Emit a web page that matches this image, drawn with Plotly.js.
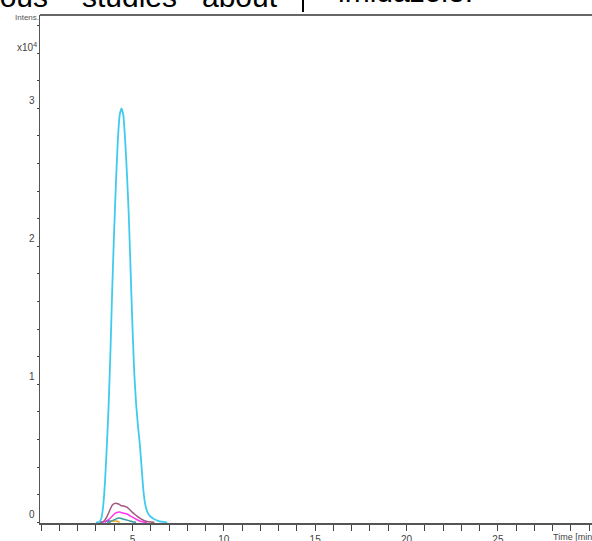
<!DOCTYPE html>
<html>
<head>
<meta charset="utf-8">
<script src="https://cdn.plot.ly/plotly-3.0.1.min.js"></script>
<style>html,body{margin:0;padding:0;background:#fff;overflow:hidden}#chart{width:592px;height:541px}</style>
</head>
<body>
<div id="chart"></div>
<script>
// Time (min) and intensity (x10^4)
var cyanTime = [3.0, 3.1, 3.2, 3.3, 3.4, 3.5, 3.6, 3.7, 3.8, 3.9, 4.0, 4.1, 4.2, 4.3, 4.4, 4.5, 4.6, 4.7, 4.8, 4.9, 5.0, 5.1, 5.2, 5.3, 5.4, 5.5, 5.6, 5.7, 5.8, 5.9, 6.0, 6.2, 6.4, 6.6, 6.9];
var cyanInt  = [0, 0, 0.005, 0.03, 0.12, 0.3, 0.56, 0.86, 1.26, 1.72, 2.12, 2.47, 2.77, 2.95, 3.0, 2.95, 2.77, 2.52, 2.22, 1.82, 1.42, 1.08, 0.86, 0.7, 0.57, 0.4, 0.23, 0.13, 0.08, 0.055, 0.04, 0.022, 0.011, 0.005, 0];

var mauveTime = [3.2, 3.4, 3.6, 3.8, 3.9, 4.0, 4.1, 4.2, 4.3, 4.4, 4.5, 4.6, 4.7, 4.8, 4.9, 5.0, 5.1, 5.2, 5.3, 5.4, 5.6, 5.8, 6.0, 6.2];
var mauveInt  = [0, 0.005, 0.04, 0.1, 0.125, 0.135, 0.138, 0.135, 0.128, 0.12, 0.118, 0.115, 0.11, 0.098, 0.085, 0.072, 0.06, 0.05, 0.04, 0.03, 0.015, 0.006, 0.002, 0];

var magentaTime = [3.3, 3.5, 3.7, 3.9, 4.0, 4.1, 4.2, 4.3, 4.4, 4.5, 4.6, 4.7, 4.8, 4.9, 5.0, 5.1, 5.2, 5.3, 5.4, 5.6, 5.8];
var magentaInt  = [0, 0.005, 0.02, 0.045, 0.06, 0.068, 0.073, 0.074, 0.07, 0.066, 0.064, 0.06, 0.053, 0.045, 0.038, 0.03, 0.022, 0.015, 0.009, 0.003, 0];

var tealTime = [3.6, 3.8, 4.0, 4.1, 4.2, 4.3, 4.4, 4.5, 4.6, 4.7, 4.8, 4.9, 5.0, 5.2];
var tealInt  = [0, 0.008, 0.018, 0.025, 0.03, 0.032, 0.028, 0.022, 0.02, 0.016, 0.012, 0.008, 0.004, 0];

var blueTime = [3.5, 3.6, 3.7, 3.8];
var blueInt  = [0, 0.012, 0.01, 0];

var orangeTime = [3.7, 3.8, 3.9, 4.0, 4.1, 4.2, 4.3];
var orangeInt  = [0, 0.007, 0.009, 0.01, 0.009, 0.006, 0];

var xTickVals = [5, 10, 15, 20, 25, 30];
var xTickText = ['5', '10', '15', '20', '25', ''];
var yTickVals = [0, 1, 2, 3];
var yTickText = ['0', '1', '2', '3'];

function tr(x, y, color, w) {
  return {x: x, y: y, type: 'scatter', mode: 'lines', line: {color: color, width: w, shape: 'spline', smoothing: 0.5}, hoverinfo: 'skip'};
}

var data = [
  tr(orangeTime, orangeInt, '#e8a317', 1.5),
  tr(blueTime, blueInt, '#2a2ad8', 1.5),
  tr(tealTime, tealInt, '#3a9c9c', 1.5),
  tr(magentaTime, magentaInt, '#ff36f0', 1.5),
  tr(mauveTime, mauveInt, '#a0587e', 1.5),
  tr(cyanTime, cyanInt, '#3fcbee', 1.8)
];

var F = 'Liberation Sans, Arial, sans-serif';
var tickFont = {family: F, size: 10, color: '#444'};

var layout = {
  width: 592, height: 541,
  margin: {l: 40, r: 0, t: 15, b: 18, pad: 0},
  paper_bgcolor: '#fff', plot_bgcolor: '#fff',
  showlegend: false,
  xaxis: {
    range: [-0.06, 30.15], showgrid: false, zeroline: false,
    showline: true, linecolor: '#555', linewidth: 1.5,
    tickvals: xTickVals, ticktext: xTickText,
    ticks: 'outside', ticklen: 6, tickwidth: 1, tickcolor: '#444',
    minor: {dtick: 1, tick0: 0, ticks: 'outside', ticklen: 6, tickwidth: 1, tickcolor: '#444'},
    tickfont: tickFont, ticklabelstandoff: 0
  },
  yaxis: {
    range: [-0.005, 3.676], showgrid: false, zeroline: false,
    showline: true, linecolor: '#555', linewidth: 1.5,
    tickvals: yTickVals, ticktext: yTickText,
    ticks: 'outside', ticklen: 2, tickwidth: 1, tickcolor: '#444',
    minor: {dtick: 0.2, tick0: 0, ticks: 'outside', ticklen: 2, tickwidth: 1, tickcolor: '#444'},
    tickfont: tickFont, ticklabelshift: -8, ticklabelstandoff: 0
  },
  shapes: [
    {type: 'line', xref: 'paper', yref: 'paper', x0: 0, x1: 1, y0: 1, y1: 1, line: {color: '#666', width: 2}},
    {type: 'line', xref: 'paper', yref: 'paper', x0: (303 - 40) / 552, x1: (303 - 40) / 552, y0: (523 - 0) / 508, y1: (523 - 12) / 508, line: {color: '#000', width: 2}}
  ],
  annotations: [
    {xref: 'paper', yref: 'paper', x: 0, xanchor: 'right', xshift: 1, y: (523 - 18) / 508, yanchor: 'middle', text: 'Intens.', showarrow: false, font: {family: F, size: 8, color: '#555'}},
    {xref: 'paper', yref: 'paper', x: 0, xanchor: 'right', xshift: -1, y: (523 - 47) / 508, yanchor: 'middle', text: 'x10<sup>4</sup>', showarrow: false, font: {family: F, size: 10, color: '#444'}},
    {xref: 'paper', yref: 'paper', x: (551 - 40) / 552, xanchor: 'left', y: (523 - 537) / 508, yanchor: 'middle', text: 'Time [min]', showarrow: false, font: {family: F, size: 9, color: '#444'}},
    {xref: 'paper', yref: 'paper', x: (-6 - 40) / 552, xanchor: 'left', xshift: -3, y: (523 - 15) / 508, yanchor: 'bottom', text: 'ious', showarrow: false, font: {family: F, size: 30, color: '#000'}},
    {xref: 'paper', yref: 'paper', x: (83 - 40) / 552, xanchor: 'left', xshift: -3, y: (523 - 15) / 508, yanchor: 'bottom', text: 'studies', showarrow: false, font: {family: F, size: 30, color: '#000'}},
    {xref: 'paper', yref: 'paper', x: (203 - 40) / 552, xanchor: 'left', xshift: -3, y: (523 - 15) / 508, yanchor: 'bottom', text: 'about', showarrow: false, font: {family: F, size: 30, color: '#000'}},
    {xref: 'paper', yref: 'paper', x: (339 - 40) / 552, xanchor: 'left', xshift: -3, y: (523 - 10) / 508, yanchor: 'bottom', text: 'imidazole.', showarrow: false, font: {family: F, size: 30, color: '#000'}}
  ]
};

Plotly.newPlot('chart', data, layout, {staticPlot: true, displayModeBar: false});
</script>
</body>
</html>
